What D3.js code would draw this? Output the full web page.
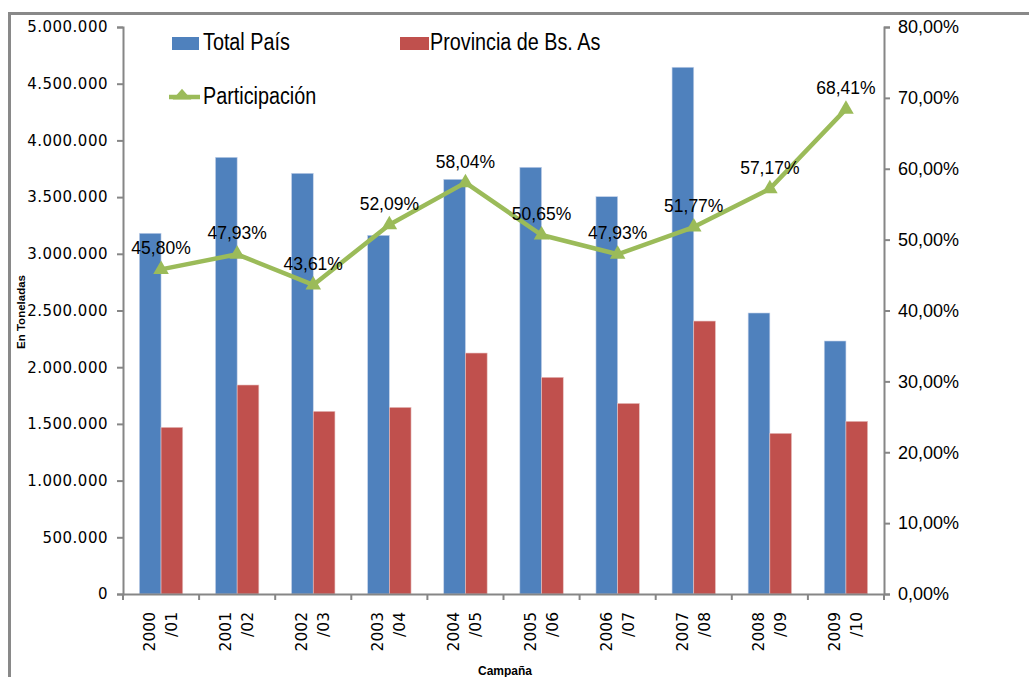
<!DOCTYPE html>
<html>
<head>
<meta charset="utf-8">
<script src="https://cdn.jsdelivr.net/npm/d3@7"></script>
<style>
  body { margin: 0; background: #fff; }
  svg { display: block; }
</style>
</head>
<body>
<svg id="chart" width="1029" height="677"></svg>
<script>
// campañas (año inicial / sufijo)
const campanas = ['2000/01', '2001/02', '2002/03', '2003/04', '2004/05', '2005/06', '2006/07', '2007/08', '2008/09', '2009/10']
// toneladas
const totalPais = [3181000, 3851000, 3710000, 3163000, 3657000, 3763000, 3504000, 4645000, 2478000, 2231000]
const provincia = [1470000, 1843000, 1611000, 1646000, 2125000, 1911000, 1681000, 2407000, 1417000, 1523000]
// participación en %
const participacion = [45.80, 47.93, 43.61, 52.09, 58.04, 50.65, 47.93, 51.77, 57.17, 68.41]

const leftTicks = [0, 500000, 1000000, 1500000, 2000000, 2500000, 3000000, 3500000, 4000000, 4500000, 5000000]
const rightTicks = [0, 10, 20, 30, 40, 50, 60, 70, 80]

const BLUE = '#4F81BD', RED = '#C0504D', GREEN = '#9BBB59', AXIS = '#868686'

const svg = d3.select('#chart')
const plot = { left: 123, right: 884, top: 27, bottom: 594 }

// outer frame (cropped at right/bottom like the source)
svg.append('rect')
    .attr('x', 9.5).attr('y', 13.5)
    .attr('width', 1100).attr('height', 800)
    .attr('fill', 'none').attr('stroke', '#898989').attr('stroke-width', 3)

const x0 = d3.scaleBand().domain(campanas).range([plot.left, plot.right]).padding(0)
const groupW = 43.4
const x1 = d3.scaleBand().domain(['total', 'prov']).range([0, groupW]).padding(0)
const yL = d3.scaleLinear().domain([0, 5000000]).range([plot.bottom, plot.top])
const yR = d3.scaleLinear().domain([0, 80]).range([plot.bottom, plot.top])
const cx = c => x0(c) + x0.bandwidth() / 2

const fmtMiles = d3.formatLocale({ decimal: ',', thousands: '.', grouping: [3], currency: ['$', ''] })
const fmtL = fmtMiles.format(',d')
const fmtP = v => fmtMiles.format('.2f')(v) + '%'

// bars
const groups = svg.append('g').selectAll('g')
    .data(campanas)
    .join('g')
    .attr('transform', c => `translate(${cx(c) - groupW / 2},0)`)

groups.append('rect')
    .attr('x', x1('total')).attr('width', x1.bandwidth())
    .attr('y', (c, i) => yL(totalPais[i]))
    .attr('height', (c, i) => yL(0) - yL(totalPais[i]))
    .attr('fill', BLUE).attr('stroke', '#c5d3ea').attr('stroke-width', 0.6)

groups.append('rect')
    .attr('x', x1('prov')).attr('width', x1.bandwidth())
    .attr('y', (c, i) => yL(provincia[i]))
    .attr('height', (c, i) => yL(0) - yL(provincia[i]))
    .attr('fill', RED).attr('stroke', '#e8c3c2').attr('stroke-width', 0.6)

// axes
const axL = svg.append('g').attr('transform', `translate(${plot.left},0)`)
    .call(d3.axisLeft(yL).tickValues(leftTicks).tickFormat(fmtL).tickSize(6).tickPadding(9))
const axR = svg.append('g').attr('transform', `translate(${plot.right},0)`)
    .call(d3.axisRight(yR).tickValues(rightTicks).tickFormat(v => fmtP(v)).tickSize(6).tickPadding(8))
const axX = svg.append('g').attr('transform', `translate(0,${plot.bottom})`)
    .call(d3.axisBottom(x0).tickValues([]).tickSizeOuter(0))

for (const ax of [axL, axR, axX]) {
    ax.select('.domain').attr('stroke', AXIS).attr('stroke-width', 2)
    ax.selectAll('.tick line').attr('stroke', AXIS).attr('stroke-width', 2)
}
axL.selectAll('.tick text')
    .attr('font-family', 'DejaVu Sans').attr('font-size', 15).attr('letter-spacing', 0.5).attr('fill', '#000')
axR.selectAll('.tick text')
    .attr('font-family', 'Liberation Sans').attr('font-size', 18).attr('fill', '#000')

// category boundary ticks
const bounds = campanas.map(c => x0(c)).concat([plot.right])
svg.append('g').selectAll('line')
    .data(bounds)
    .join('line')
    .attr('x1', d => d).attr('x2', d => d)
    .attr('y1', plot.bottom).attr('y2', plot.bottom + 6)
    .attr('stroke', AXIS).attr('stroke-width', 2)

// rotated category labels
const xl = svg.append('g').selectAll('text')
    .data(campanas)
    .join('text')
    .attr('transform', c => `translate(${cx(c)},612) rotate(-90)`)
    .attr('text-anchor', 'end')
    .attr('font-family', 'DejaVu Sans').attr('font-size', 15.5).attr('fill', '#000')
xl.append('tspan').attr('x', 0).attr('y', -6).text(c => c.split('/')[0])
xl.append('tspan').attr('x', 0).attr('y', 16).text(c => '/' + c.split('/')[1])

// axis titles
svg.append('text')
    .attr('x', 505).attr('y', 675).attr('text-anchor', 'middle')
    .attr('font-family', 'Liberation Sans').attr('font-weight', 'bold')
    .attr('font-size', 12).text('Campaña')
svg.append('text')
    .attr('transform', 'translate(25,312) rotate(-90)')
    .attr('text-anchor', 'middle')
    .attr('font-family', 'Liberation Sans').attr('font-weight', 'bold')
    .attr('font-size', 11.5).text('En Toneladas')

// participation line
const line = d3.line().x((d, i) => cx(campanas[i])).y(d => yR(d))
svg.append('path')
    .datum(participacion)
    .attr('d', line)
    .attr('fill', 'none').attr('stroke', GREEN).attr('stroke-width', 4.5).attr('stroke-linejoin', 'round')

const tri = d3.symbol(d3.symbolTriangle).size(105)
svg.append('g').selectAll('path')
    .data(participacion)
    .join('path')
    .attr('d', tri)
    .attr('transform', (d, i) => `translate(${cx(campanas[i])},${yR(d)})`)
    .attr('fill', GREEN)

svg.append('g').selectAll('text')
    .data(participacion)
    .join('text')
    .attr('x', (d, i) => cx(campanas[i]))
    .attr('y', d => yR(d) - 15)
    .attr('text-anchor', 'middle')
    .attr('font-family', 'Liberation Sans').attr('font-size', 17.5).attr('fill', '#000')
    .text(d => fmtP(d))

// legend (narrow face: squeeze regular one horizontally)
const legendText = (x, y, t) => lg.append('text')
    .attr('transform', `translate(${x},${y}) scale(0.86,1)`)
    .attr('font-family', 'Liberation Sans').attr('font-size', 23).attr('fill', '#000')
    .text(t)
const lg = svg.append('g')
lg.append('rect').attr('x', 172).attr('y', 37).attr('width', 27).attr('height', 13).attr('fill', BLUE)
legendText(203, 50, 'Total País')
lg.append('rect').attr('x', 400).attr('y', 37).attr('width', 29).attr('height', 13).attr('fill', RED)
legendText(430, 50, 'Provincia de Bs. As')
lg.append('line').attr('x1', 169).attr('x2', 200).attr('y1', 97).attr('y2', 97)
    .attr('stroke', GREEN).attr('stroke-width', 4.5)
lg.append('path').attr('d', tri).attr('transform', 'translate(182,96) scale(1.2,0.8)').attr('fill', GREEN)
legendText(203, 104, 'Participación')
</script>
</body>
</html>
